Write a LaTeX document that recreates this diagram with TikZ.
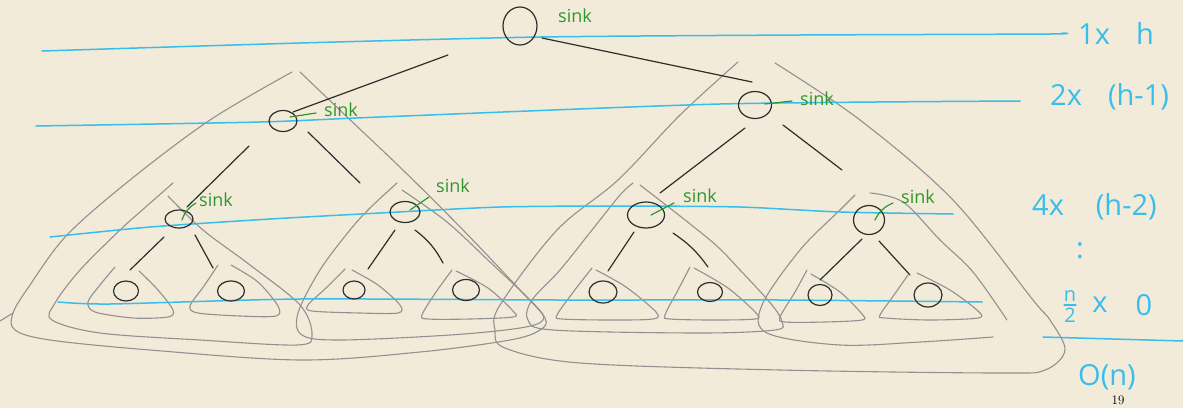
\documentclass[tikz,border=0pt]{standalone}
\usepackage{fontspec}
\newfontfamily\hand{Open Sans}
\usetikzlibrary{shapes.geometric,calc}
\definecolor{paper}{RGB}{243,235,218}
\definecolor{ink}{RGB}{45,45,45}
\definecolor{pencil}{RGB}{145,145,145}
\definecolor{marker}{RGB}{55,190,235}
\definecolor{sinkgreen}{RGB}{45,150,45}
\tikzset{
  vert/.style={draw=ink, line width=1.2pt, ellipse, inner sep=0pt},
  edge/.style={draw=ink, line width=1.2pt, line cap=round},
  hull/.style={draw=pencil, line width=1.1pt, line cap=round, line join=round},
  level/.style={draw=marker, line width=1.5pt, line cap=round},
  sinktxt/.style={text=sinkgreen, font=\hand\fontsize{18}{18}\selectfont, inner sep=0pt},
  sinkline/.style={draw=sinkgreen, line width=1.2pt, line cap=round},
  cost/.style={text=marker, font=\hand\fontsize{29}{29}\selectfont, inner sep=0pt},
  fracpart/.style={text=marker, font=\hand\fontsize{20}{20}\selectfont, inner sep=0pt}
}
\begin{document}
\begin{tikzpicture}[x=1pt,y=-1pt]
\fill[paper] (0,0) rectangle (1183,408);
\useasboundingbox (0,0) rectangle (1183,408);

% ---- subtree hulls: leaves ----
\draw[hull] plot[smooth,tension=0.5] coordinates {(115,267) (100,285) (88,302) (95,312) (133,318) (168,317) (173,310) (158,290) (139,271)};
\draw[hull] plot[smooth,tension=0.5] coordinates {(218,265) (204,286) (190,306) (198,313) (240,316) (276,316) (278,306) (258,282) (231,265)};
\draw[hull] plot[smooth,tension=0.5] coordinates {(345,269) (326,288) (308,305) (312,311) (360,313) (398,313) (400,305) (378,285) (352,270)};
\draw[hull] plot[smooth,tension=0.5] coordinates {(452,270) (436,292) (422,315) (428,319) (470,319) (513,317) (513,311) (488,288) (456,271)};
\draw[hull] plot[smooth,tension=0.5] coordinates {(592,268) (574,291) (557,315) (562,319) (610,320) (653,319) (656,312) (626,287) (596,270)};
\draw[hull] plot[smooth,tension=0.5] coordinates {(690,267) (678,290) (665,315) (670,319) (712,320) (755,319) (756,313) (728,288) (694,268)};
\draw[hull] plot[smooth,tension=0.5] coordinates {(807,270) (795,292) (780,317) (785,322) (825,322) (862,320) (862,314) (840,292) (811,274)};
\draw[hull] plot[smooth,tension=0.5] coordinates {(908,275) (894,295) (880,315) (885,318) (930,320) (978,318) (978,311) (950,290) (917,273)};

% ---- subtree hulls: second level ----
\draw[hull] plot[smooth,tension=0.55] coordinates {(173,183) (140,212) (120,230) (80,270) (55,303) (52,320) (100,333) (200,340) (297,345) (312,335) (300,305) (250,265) (203,230) (168,196)};
\draw[hull] plot[smooth,tension=0.55] coordinates {(397,183) (370,208) (350,230) (320,270) (298,313) (302,335) (340,340) (450,335) (520,328) (543,320) (535,305) (490,262) (447,222) (402,190)};
\draw[hull] plot[smooth,tension=0.55] coordinates {(633,183) (620,195) (592,230) (560,270) (532,300) (528,320) (553,330) (700,333) (775,330) (782,322) (772,305) (740,270) (710,240) (640,185)};
\draw[hull] plot[smooth,tension=0.55] coordinates {(855,195) (840,210) (800,250) (762,305) (767,333) (840,345) (920,342) (993,337)};
\draw[hull] plot[smooth,tension=0.55] coordinates {(870,193) (903,202) (940,240) (973,272) (1007,320)};

% ---- subtree hulls: first level ----
\draw[hull] plot[smooth,tension=0.55] coordinates {(292,72) (210,120) (130,180) (67,235) (30,285) (13,313) (15,330) (50,340) (150,350) (300,360) (420,352) (510,340) (540,330) (545,318) (520,290) (465,232) (405,172) (345,115) (300,72)};
\draw[hull] (0,321) -- (13,313);
\draw[hull] plot[smooth,tension=0.55] coordinates {(738,62) (680,115) (618,180) (557,230) (500,305) (495,330) (505,348) (580,363) (780,370) (1000,373) (1045,370) (1065,350) (1050,320) (1033,300) (953,200) (860,120) (775,63)};

% ---- level lines ----
\draw[level] plot[smooth,tension=0.4] coordinates {(42,51) (300,43) (540,37) (800,35) (1050,34) (1062,33)};
\draw[level] plot[smooth,tension=0.4] coordinates {(36,126) (260,122) (380,117) (720,104) (1020,101)};
\draw[level] plot[smooth,tension=0.4] coordinates {(50,237) (150,227) (270,219) (380,213) (500,207) (620,206) (740,207) (840,212) (953,214)};
\draw[level] plot[smooth,tension=0.4] coordinates {(58,302) (110,304) (300,299) (560,300) (780,300) (982,302)};
\draw[level] (1043,337) -- (1183,341);

% ---- tree vertices ----
\node[vert, minimum width=34pt, minimum height=38pt] (root) at (520,26) {};
\node[vert, minimum width=28pt, minimum height=21pt] (a) at (283,121) {};
\node[vert, minimum width=33pt, minimum height=27pt] (b) at (755,105) {};
\node[vert, minimum width=28pt, minimum height=18pt] (aa) at (179,219) {};
\node[vert, minimum width=30pt, minimum height=21pt] (ab) at (405,212) {};
\node[vert, minimum width=37pt, minimum height=26pt] (ba) at (646,215) {};
\node[vert, minimum width=31pt, minimum height=29pt] (bb) at (869,220) {};
\node[vert, minimum width=25pt, minimum height=20pt] (aaa) at (126,291) {};
\node[vert, minimum width=27pt, minimum height=20pt] (aab) at (231,291) {};
\node[vert, minimum width=22pt, minimum height=18pt] (aba) at (354,290) {};
\node[vert, minimum width=27pt, minimum height=21pt] (abb) at (466,290) {};
\node[vert, minimum width=28pt, minimum height=22pt] (baa) at (603,292) {};
\node[vert, minimum width=25pt, minimum height=19pt] (bab) at (710,292) {};
\node[vert, minimum width=24pt, minimum height=21pt] (bba) at (820,295) {};
\node[vert, minimum width=28pt, minimum height=24pt] (bbb) at (928,295) {};

% ---- tree edges ----
\draw[edge] ([shift={(-72,29)}]root.center) -- ([shift={(10,-9)}]a.center);
\draw[edge] ([shift={(22,12)}]root.center) -- ([shift={(-3,-23)}]b.center);
\draw[edge] ([shift={(-34,25)}]a.center) -- ([shift={(8,-12)}]aa.center);
\draw[edge] ([shift={(25,11)}]a.center) -- ([shift={(-45,-29)}]ab.center);
\draw[edge] ([shift={(-10,23)}]b.center) -- ([shift={(14,-22)}]ba.center);
\draw[edge] ([shift={(28,20)}]b.center) -- ([shift={(-27,-50)}]bb.center);
\draw[edge] ([shift={(-15,18)}]aa.center) -- ([shift={(4,-21)}]aaa.center);
\draw[edge] ([shift={(16,16)}]aa.center) -- ([shift={(-18,-23)}]aab.center);
\draw[edge] ([shift={(-10,18)}]ab.center) -- ([shift={(14,-21)}]aba.center);
\draw[edge] ([shift={(10,18)}]ab.center) to[bend left=12] ([shift={(-23,-27)}]abb.center);
\draw[edge] ([shift={(-12,17)}]ba.center) -- ([shift={(5,-21)}]baa.center);
\draw[edge] ([shift={(27,18)}]ba.center) to[bend left=10] ([shift={(-2,-25)}]bab.center);
\draw[edge] ([shift={(-7,19)}]bb.center) -- ([shift={(0,-15)}]bba.center);
\draw[edge] ([shift={(10,21)}]bb.center) -- ([shift={(-18,-20)}]bbb.center);

% ---- sink labels ----
\node[sinktxt] (sroot) at (575,16) {sink};
\node[sinktxt] (sa) at (341,110) {sink};
\node[sinktxt] (sb) at (817,99) {sink};
\node[sinktxt] (saa) at (216,200) {sink};
\node[sinktxt] (sab) at (453,186) {sink};
\node[sinktxt] (sba) at (700,196) {sink};
\node[sinktxt] (sbb) at (918,197) {sink};
\draw[sinkline] ([shift={(7,-4)}]a.center) -- ([shift={(-8,3)}]sa.west);
\draw[sinkline] ([shift={(10,-1)}]b.center) -- ([shift={(-8,2)}]sb.west);
\draw[sinkline] ([shift={(3,1)}]aa.center) to[bend left=20] ([shift={(-3,3)}]saa.west);
\draw[sinkline] ([shift={(5,-2)}]ab.center) -- ([shift={(-7,11)}]sab.west);
\draw[sinkline] ([shift={(5,0)}]ba.center) -- ([shift={(-9,7)}]sba.west);
\draw[sinkline] ([shift={(6,0)}]bb.center) to[bend left=20] ([shift={(-8,6)}]sbb.west);

% ---- per-level cost ----
\node[cost, anchor=west] (c0) at (1078,33) {1x\hspace{0.9em}h};
\node[cost, anchor=west] (c1) at (1050,97) {2x\hspace{0.9em}(h-1)};
\node[cost, anchor=west] (c2) at (1032,207) {4x\hspace{1.1em}(h-2)};
\node[cost] (c3) at (1080,251) {:};
\node[fracpart, anchor=south] (fnum) at (1070,302) {n};
\node[fracpart, anchor=north] (fden) at (1070,308) {2};
\draw[draw=marker, line width=1.3pt, line cap=round] ([xshift=-6pt,yshift=-3pt]fnum.south) -- ([xshift=6pt,yshift=-3pt]fnum.south);
\node[cost] (c4x) at (1100,305) {x};
\node[cost] (c4v) at (1144,305) {0};
\node[cost] (total) at (1107,377) {O(n)};
\node[font=\fontsize{13}{13}\selectfont, inner sep=0pt] (page) at (1118,400) {19};
\end{tikzpicture}
\end{document}
